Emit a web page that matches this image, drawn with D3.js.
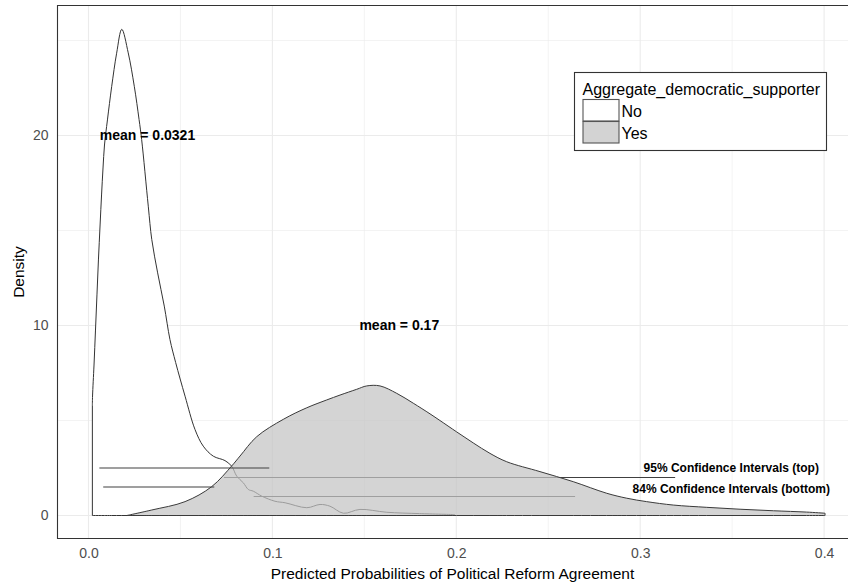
<!DOCTYPE html>
<html>
<head>
<meta charset="utf-8">
<script src="https://cdn.jsdelivr.net/npm/d3@7"></script>
<style>
  body { margin: 0; background: #fff; }
  svg { display: block; font-family: "Liberation Sans", Arial, sans-serif; }
</style>
</head>
<body>
<div id="chart"></div>
<script>
// density of predicted probabilities, group "No"
var noX = [0.0021, 0.0022, 0.0030, 0.0038, 0.0046, 0.0054, 0.0063, 0.0071, 0.0079, 0.0087, 0.0103, 0.0126,
  0.0153, 0.0181, 0.0216, 0.0249, 0.0275, 0.0289, 0.0325, 0.0344, 0.0376, 0.0412, 0.0443, 0.0474, 0.0525,
  0.0579, 0.0624, 0.0679, 0.0742, 0.0779, 0.0806, 0.0842, 0.0869, 0.0896, 0.0942, 0.1014, 0.1069, 0.1187,
  0.1259, 0.1313, 0.1386, 0.1476, 0.1622, 0.180, 0.199];
var noY = [5.8, 6.29, 7.92, 9.76, 11.61, 13.45, 15.29, 16.87, 18.29, 19.5, 20.82, 22.57,
  24.33, 25.59, 24.35, 22.59, 20.84, 19.79, 16.28, 14.53, 12.77, 11.02, 9.26, 8.05, 6.28,
  4.53, 3.65, 3.12, 2.89, 2.59, 2.07, 1.72, 1.37, 1.28, 1.02, 0.75, 0.67, 0.41,
  0.58, 0.49, 0.12, 0.32, 0.17, 0.1, 0.05];

// density, group "Yes"
var yesX = [0.0208, 0.0344, 0.0525, 0.0670, 0.0779, 0.0824, 0.0915, 0.1059, 0.1187, 0.1295, 0.1368, 0.1458,
  0.1513, 0.1585, 0.1676, 0.1766, 0.1857, 0.1911, 0.2002, 0.2092, 0.2183, 0.2274, 0.2455, 0.2636, 0.2818,
  0.2927, 0.3035, 0.3180, 0.3362, 0.3543, 0.3724, 0.3905, 0.4005];
var yesY = [0, 0.29, 0.73, 1.52, 2.61, 3.13, 4.15, 5.06, 5.67, 6.08, 6.34, 6.64,
  6.82, 6.82, 6.43, 5.91, 5.35, 5.0, 4.4, 3.82, 3.27, 2.83, 2.31, 1.78, 1.17,
  0.91, 0.73, 0.55, 0.43, 0.33, 0.25, 0.18, 0.12];

// confidence interval segments: group, low, high, height
var ciGroup = ["Yes", "Yes", "No", "No"];
var ciLow = [0.0737, 0.0898, 0.0059, 0.008];
var ciHigh = [0.319, 0.2646, 0.0983, 0.0684];
var ciHeight = [2, 1, 2.5, 1.5];

var meanText = ["mean = 0.0321", "mean = 0.17"];
var meanX = [0.0321, 0.169];
var meanY = [20, 10];

var noteText = ["95% Confidence Intervals (top)", "84% Confidence Intervals (bottom)"];
var noteX = [0.3495, 0.3495];
var noteY = [2.5, 1.4];

var xTicks = [0, 0.1, 0.2, 0.3, 0.4];
var xMinor = [0.05, 0.15, 0.25, 0.35];
var yTicks = [0, 10, 20];
var yMinor = [5, 15, 25];

var legendTitle = "Aggregate_democratic_supporter";
var legendLabels = ["No", "Yes"];

var width = 848, height = 586;
var panel = { left: 57, right: 848, top: 5, bottom: 539 };

var svg = d3.select("#chart").append("svg")
  .attr("width", width)
  .attr("height", height);

var x = d3.scaleLinear().domain([0, 0.4]).range([88.5, 824.1]);
var y = d3.scaleLinear().domain([0, 20]).range([515.5, 135.5]);

function drawGrid() {
  var g = svg.append("g").attr("class", "grid");
  g.selectAll("line.vmin").data(xMinor).enter().append("line")
    .attr("x1", d => x(d)).attr("x2", d => x(d))
    .attr("y1", panel.top).attr("y2", panel.bottom)
    .attr("stroke", "#ebebeb").attr("stroke-width", 0.6);
  g.selectAll("line.hmin").data(yMinor).enter().append("line")
    .attr("y1", d => y(d)).attr("y2", d => y(d))
    .attr("x1", panel.left).attr("x2", panel.right)
    .attr("stroke", "#ebebeb").attr("stroke-width", 0.6);
  g.selectAll("line.vmaj").data(xTicks).enter().append("line")
    .attr("x1", d => x(d)).attr("x2", d => x(d))
    .attr("y1", panel.top).attr("y2", panel.bottom)
    .attr("stroke", "#ebebeb").attr("stroke-width", 1.1);
  g.selectAll("line.hmaj").data(yTicks).enter().append("line")
    .attr("y1", d => y(d)).attr("y2", d => y(d))
    .attr("x1", panel.left).attr("x2", panel.right)
    .attr("stroke", "#ebebeb").attr("stroke-width", 1.1);
}

function drawAxes() {
  var xAxis = d3.axisBottom(x).tickValues(xTicks).tickSize(0).tickPadding(9)
    .tickFormat(d3.format(".1f"));
  var gx = svg.append("g")
    .attr("transform", "translate(0," + panel.bottom + ")")
    .call(xAxis);
  gx.select(".domain").remove();
  gx.selectAll("text").attr("fill", "#4d4d4d").style("font-size", "14px")
    .style("font-family", "'Liberation Sans', Arial, sans-serif");

  var yAxis = d3.axisLeft(y).tickValues(yTicks).tickSize(0).tickPadding(8.5);
  var gy = svg.append("g")
    .attr("transform", "translate(" + panel.left + ",0)")
    .call(yAxis);
  gy.select(".domain").remove();
  gy.selectAll("text").attr("fill", "#4d4d4d").style("font-size", "14px")
    .style("font-family", "'Liberation Sans', Arial, sans-serif");

  // panel frame (top, left, bottom; the right side is cut by the image)
  svg.append("path")
    .attr("d", "M" + panel.right + "," + (panel.top + 0.5) + "H" + (panel.left + 0.5) +
      "V" + (panel.bottom - 0.5) + "H" + panel.right)
    .attr("fill", "none").attr("stroke", "#333").attr("stroke-width", 1.1);

  svg.append("text")
    .attr("x", (panel.left + panel.right) / 2)
    .attr("y", 579)
    .attr("text-anchor", "middle")
    .style("font-size", "15.5px")
    .text("Predicted Probabilities of Political Reform Agreement");

  svg.append("text")
    .attr("transform", "translate(23.5," + 272 + ") rotate(-90)")
    .attr("text-anchor", "middle")
    .style("font-size", "15.5px")
    .text("Density");
}

function drawDensities() {
  var noData = noX.map((d, i) => ({ x: d, y: noY[i] }));
  var yesData = yesX.map((d, i) => ({ x: d, y: yesY[i] }));

  var area = d3.area()
    .x(d => x(d.x))
    .y0(y(0))
    .y1(d => y(d.y))
    .curve(d3.curveCatmullRom.alpha(0.5));

  svg.append("path")
    .datum(noData)
    .attr("d", area)
    .attr("fill", "#fff")
    .attr("stroke", "#333")
    .attr("stroke-width", 1);

  // Yes intervals sit under the semi transparent Yes fill
  drawCi("Yes");

  svg.append("path")
    .datum(yesData)
    .attr("d", area)
    .attr("fill", "#c4c4c4")
    .attr("fill-opacity", 0.72)
    .attr("stroke", "none");

  svg.append("path")
    .datum(yesData)
    .attr("d", area)
    .attr("fill", "none")
    .attr("stroke", "#3a3a3a")
    .attr("stroke-width", 1);

  drawCi("No");
}

function drawCi(group) {
  var idx = d3.range(ciGroup.length).filter(i => ciGroup[i] === group);
  svg.append("g").selectAll("line").data(idx).enter().append("line")
    .attr("x1", i => x(ciLow[i]))
    .attr("x2", i => x(ciHigh[i]))
    .attr("y1", i => y(ciHeight[i]))
    .attr("y2", i => y(ciHeight[i]))
    .attr("stroke", "#404040")
    .attr("stroke-width", 1.1);
}

function drawLabels() {
  svg.append("g").selectAll("text").data(meanText).enter().append("text")
    .attr("x", (d, i) => x(meanX[i]))
    .attr("y", (d, i) => y(meanY[i]))
    .attr("dy", "0.35em")
    .attr("text-anchor", "middle")
    .style("font-size", "14px")
    .style("font-weight", "bold")
    .text(d => d);

  svg.append("g").selectAll("text").data(noteText).enter().append("text")
    .attr("x", (d, i) => x(noteX[i]))
    .attr("y", (d, i) => y(noteY[i]))
    .attr("dy", "0.35em")
    .attr("text-anchor", "middle")
    .style("font-size", "12px")
    .style("font-weight", "bold")
    .text(d => d);
}

function drawLegend() {
  var g = svg.append("g").attr("transform", "translate(574.5,72.5)");
  g.append("rect")
    .attr("width", 252).attr("height", 78)
    .attr("fill", "#fff").attr("stroke", "#333").attr("stroke-width", 1.1);
  g.append("text")
    .attr("x", 8).attr("y", 22)
    .style("font-size", "16px")
    .text(legendTitle);
  var keys = g.selectAll("g.key").data(legendLabels).enter().append("g")
    .attr("transform", (d, i) => "translate(8.5," + (27 + i * 22) + ")");
  keys.append("rect")
    .attr("width", 36).attr("height", 21.5)
    .attr("fill", (d, i) => i === 0 ? "#fff" : "#d3d3d3")
    .attr("stroke", "#555").attr("stroke-width", 1.1);
  keys.append("text")
    .attr("x", 38.5).attr("y", 17)
    .style("font-size", "16px")
    .text(d => d);
}

(function () {
  drawGrid();
  drawDensities();
  drawAxes();
  drawLabels();
  drawLegend();
}());
</script>
</body>
</html>
